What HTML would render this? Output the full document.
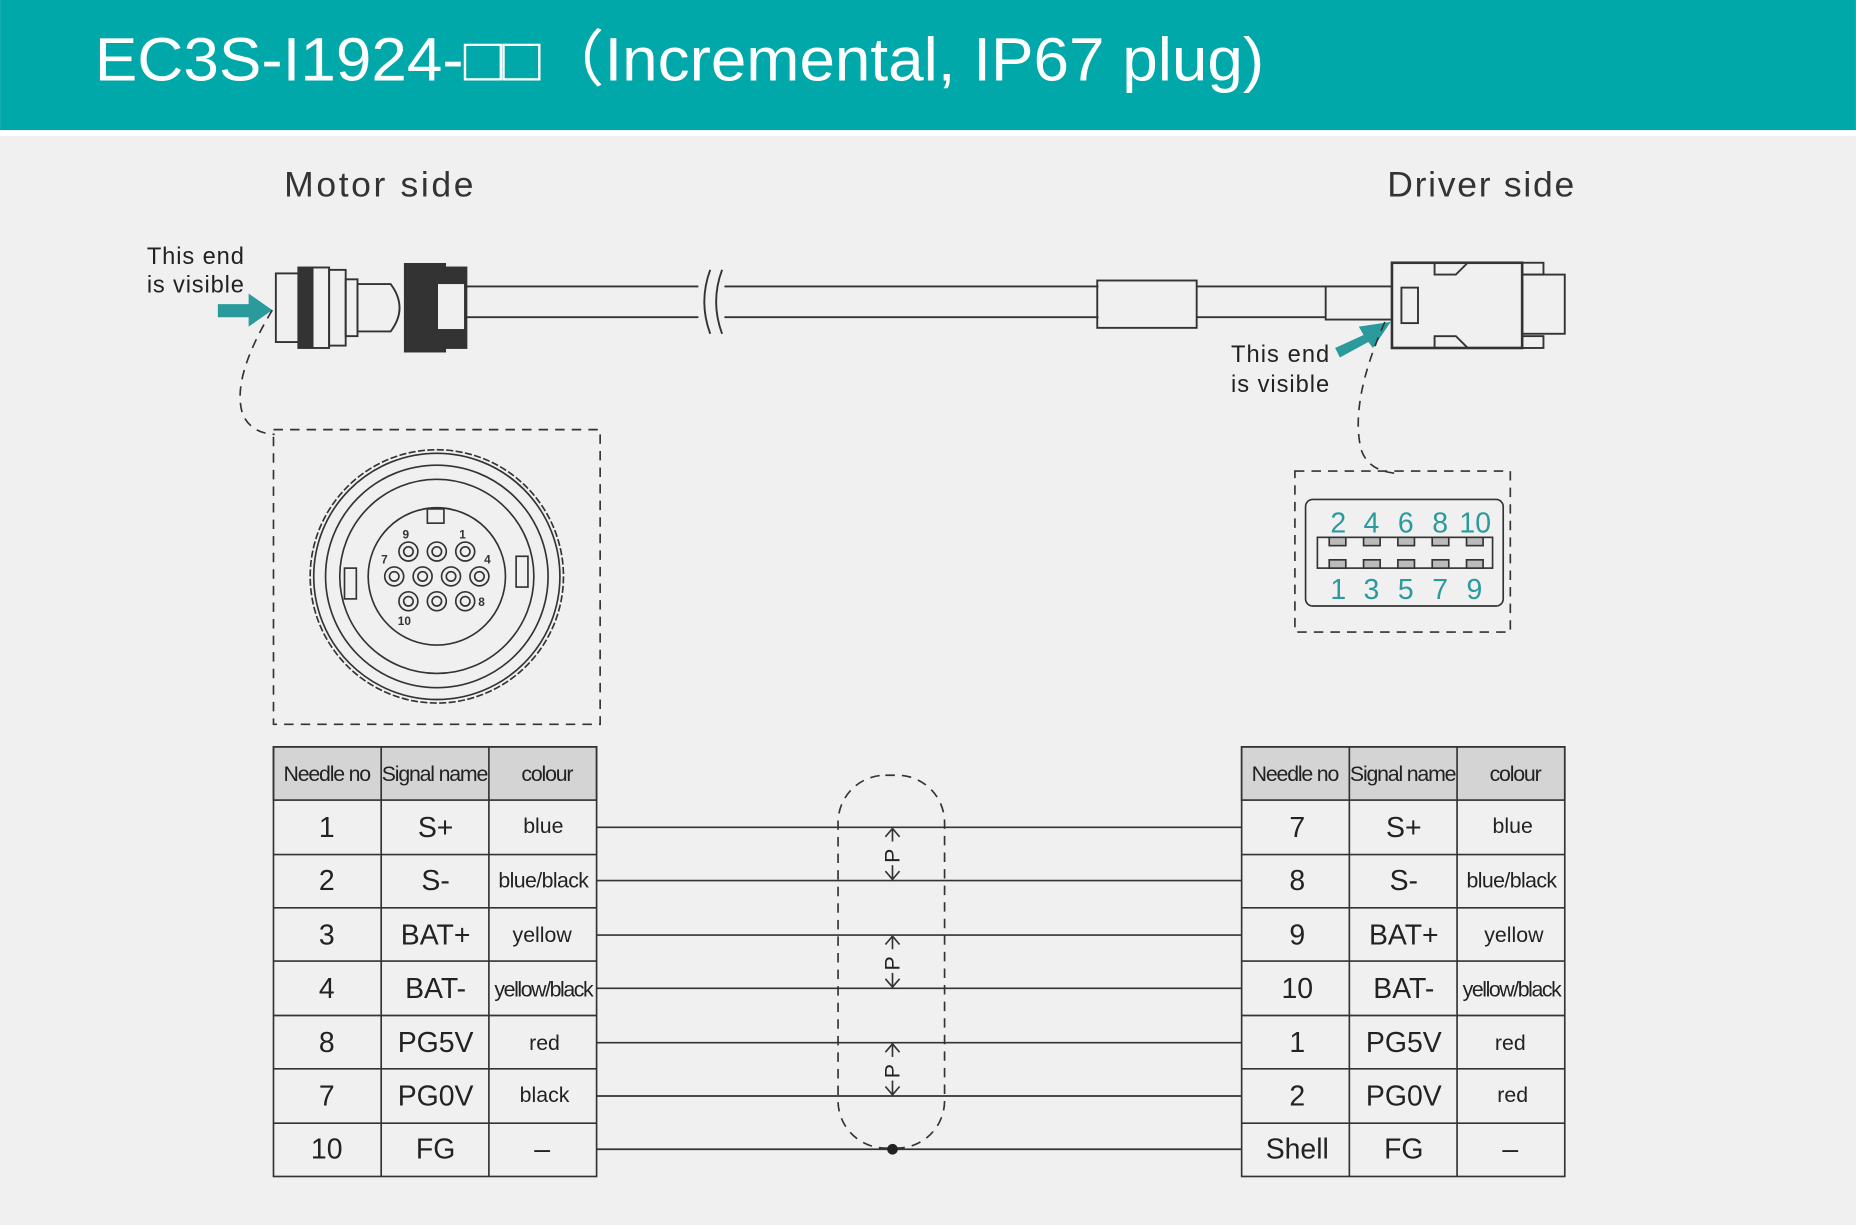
<!DOCTYPE html>
<html><head><meta charset="utf-8"><style>
html,body{margin:0;padding:0;background:#f0f0f0}
svg{display:block}
text{font-family:"Liberation Sans","DejaVu Sans",sans-serif}
</style></head><body>
<svg width="1856" height="1225" viewBox="0 0 1568 1035" xmlns="http://www.w3.org/2000/svg">
<rect width="1568" height="1035" fill="#f0f0f0"/>
<rect width="1568" height="110" fill="#00a8aa"/>
<rect y="110" width="1568" height="5" fill="#fff"/>
<text x="80" y="68" font-size="52" fill="#fff" textLength="988" lengthAdjust="spacingAndGlyphs">EC3S-I1924-□□（Incremental, IP67 plug)</text>

<text x="240" y="166" font-size="30" fill="#333" textLength="160">Motor side</text>
<text x="1172" y="166" font-size="30" fill="#333" textLength="158">Driver side</text>
<text x="124" y="223" font-size="20" fill="#222" textLength="82">This end</text>
<text x="124" y="247" font-size="20" fill="#222" textLength="82">is visible</text>
<text x="1040" y="306" font-size="20" fill="#222" textLength="83">This end</text>
<text x="1040" y="331" font-size="20" fill="#222" textLength="83">is visible</text>

<!-- arrows -->
<polygon points="184,257 210,257 210,248 230,262 210,276 210,268 184,268" fill="#2a9a9c"/>
<polygon points="1128,294 1152,283 1148,276 1175,272 1160,294 1156,289 1132,302" fill="#2a9a9c"/>

<g fill="none" stroke="#333" stroke-width="1.6">
<rect x="233" y="231" width="20" height="58"/>
<rect x="252" y="226" width="12" height="68" fill="#333"/>
<rect x="264" y="226" width="14" height="68"/>
<rect x="278" y="228" width="14" height="64"/>
<rect x="292" y="236" width="10" height="48"/>
<path d="M302,240 L330,240 Q345,260 330,280 L302,280 Z"/>
<rect x="342" y="223" width="34" height="74" fill="#333"/>
<rect x="376" y="226" width="18" height="68" fill="#333"/>
<rect x="370" y="240" width="22" height="38" fill="#f0f0f0" stroke="none"/>
<line x1="394" y1="242" x2="928" y2="242"/>
<line x1="394" y1="268" x2="928" y2="268"/>
<rect x="590" y="238" width="22" height="36" fill="#f0f0f0" stroke="none"/>
<path d="M600,228 Q590,255 600,282 M610,228 Q600,255 610,282"/>
<rect x="927" y="237" width="84" height="40"/>
<line x1="1011" y1="242" x2="1120" y2="242"/>
<line x1="1011" y1="268" x2="1120" y2="268"/>
<rect x="1120" y="242" width="56" height="28"/>
<rect x="1176" y="222" width="110" height="72" stroke-width="2.2"/>
<rect x="1184" y="243" width="14" height="30"/>
<rect x="1286" y="232" width="36" height="50"/>
<rect x="1286" y="222" width="18" height="10"/>
<rect x="1286" y="284" width="18" height="10"/>
<path d="M1212,222 L1212,232 L1230,232 L1240,222 M1212,294 L1212,284 L1230,284 L1240,294"/>
</g>

<g fill="none" stroke="#333" stroke-width="1.4" stroke-dasharray="8,6">
<path d="M230,262 Q195,320 205,350 Q212,366 232,367"/>
<path d="M1170,272 Q1140,340 1150,380 Q1156,398 1180,400"/>
<rect x="231" y="363" width="276" height="249"/>
<rect x="1094" y="398" width="182" height="136"/>
<rect x="708" y="655" width="90" height="315" rx="40"/>
</g>

<g fill="none" stroke="#333" stroke-width="1.4">
<circle cx="369" cy="487" r="107" stroke-dasharray="6,2"/>
<circle cx="369" cy="487" r="104"/>
<circle cx="369" cy="487" r="94"/>
<circle cx="369" cy="487" r="82"/>
<circle cx="369" cy="487" r="58"/>
<rect x="361" y="430" width="14" height="12"/>
<rect x="291" y="480" width="10" height="26"/>
<rect x="436" y="470" width="10" height="26"/>
<g>
<circle cx="345" cy="466" r="8"/><circle cx="345" cy="466" r="4"/>
<circle cx="369" cy="466" r="8"/><circle cx="369" cy="466" r="4"/>
<circle cx="393" cy="466" r="8"/><circle cx="393" cy="466" r="4"/>
<circle cx="333" cy="487" r="8"/><circle cx="333" cy="487" r="4"/>
<circle cx="357" cy="487" r="8"/><circle cx="357" cy="487" r="4"/>
<circle cx="381" cy="487" r="8"/><circle cx="381" cy="487" r="4"/>
<circle cx="405" cy="487" r="8"/><circle cx="405" cy="487" r="4"/>
<circle cx="345" cy="508" r="8"/><circle cx="345" cy="508" r="4"/>
<circle cx="369" cy="508" r="8"/><circle cx="369" cy="508" r="4"/>
<circle cx="393" cy="508" r="8"/><circle cx="393" cy="508" r="4"/>
</g>
</g>
<g font-size="10" font-weight="bold" fill="#333">
<text x="340" y="455">9</text><text x="388" y="455">1</text><text x="322" y="476">7</text><text x="409" y="476">4</text><text x="404" y="512">8</text><text x="336" y="528">10</text>
</g>

<g fill="none" stroke="#333" stroke-width="1.4">
<rect x="1103" y="422" width="167" height="90" rx="6"/>
<rect x="1113" y="454" width="148" height="26"/>
<g fill="#bbb">
<rect x="1123" y="454" width="14" height="7"/><rect x="1152" y="454" width="14" height="7"/><rect x="1181" y="454" width="14" height="7"/><rect x="1210" y="454" width="14" height="7"/><rect x="1239" y="454" width="14" height="7"/>
<rect x="1123" y="473" width="14" height="7"/><rect x="1152" y="473" width="14" height="7"/><rect x="1181" y="473" width="14" height="7"/><rect x="1210" y="473" width="14" height="7"/><rect x="1239" y="473" width="14" height="7"/>
</g>
</g>
<g font-size="24" fill="#2a9a9c">
<text x="1124" y="450">2</text><text x="1152" y="450">4</text><text x="1181" y="450">6</text><text x="1210" y="450">8</text><text x="1233" y="450">10</text>
<text x="1124" y="506">1</text><text x="1152" y="506">3</text><text x="1181" y="506">5</text><text x="1210" y="506">7</text><text x="1239" y="506">9</text>
</g>

<g stroke="#333" stroke-width="1.4" fill="none">
<line x1="504" y1="699" x2="1049" y2="699"/>
<line x1="504" y1="744" x2="1049" y2="744"/>
<line x1="504" y1="790" x2="1049" y2="790"/>
<line x1="504" y1="835" x2="1049" y2="835"/>
<line x1="504" y1="881" x2="1049" y2="881"/>
<line x1="504" y1="926" x2="1049" y2="926"/>
<line x1="504" y1="971" x2="1049" y2="971"/>
<line x1="754" y1="700" x2="754" y2="743"/>
<line x1="754" y1="791" x2="754" y2="834"/>
<line x1="754" y1="882" x2="754" y2="925"/>
<path d="M748,707 L754,700 L760,707 M748,736 L754,743 L760,736"/>
<path d="M748,798 L754,791 L760,798 M748,827 L754,834 L760,827"/>
<path d="M748,889 L754,882 L760,889 M748,918 L754,925 L760,918"/>
</g>
<circle cx="754" cy="971" r="4.5" fill="#222"/>
<g font-size="18" fill="#222">
<rect x="744" y="711" width="20" height="20" fill="#f0f0f0"/><text transform="translate(760,729) rotate(-90)">P</text>
<rect x="744" y="802" width="20" height="20" fill="#f0f0f0"/><text transform="translate(760,820) rotate(-90)">P</text>
<rect x="744" y="893" width="20" height="20" fill="#f0f0f0"/><text transform="translate(760,911) rotate(-90)">P</text>
</g>

<g stroke="#333" stroke-width="1.4" fill="none">
<rect x="231" y="631" width="273" height="45" fill="#d4d4d4"/>
<rect x="231" y="631" width="273" height="363"/>
<rect x="1049" y="631" width="273" height="45" fill="#d4d4d4"/>
<rect x="1049" y="631" width="273" height="363"/>
<path d="M322,631V994M413,631V994M1140,631V994M1231,631V994"/>
<path d="M231,722H504M231,767H504M231,812H504M231,858H504M231,903H504M231,949H504"/>
<path d="M1049,722H1322M1049,767H1322M1049,812H1322M1049,858H1322M1049,903H1322M1049,949H1322"/>
</g>
<g font-size="18" fill="#222" text-anchor="middle" letter-spacing="-1">
<text x="276" y="660">Needle no</text><text x="367" y="660">Signal name</text><text x="462" y="660">colour</text>
<text x="1094" y="660">Needle no</text><text x="1185" y="660">Signal name</text><text x="1280" y="660">colour</text>
</g>
<g font-size="24" fill="#222" text-anchor="middle">
<text x="276" y="707">1</text><text x="368" y="707">S+</text>
<text x="276" y="752">2</text><text x="368" y="752">S-</text>
<text x="276" y="798">3</text><text x="368" y="798">BAT+</text>
<text x="276" y="843">4</text><text x="368" y="843">BAT-</text>
<text x="276" y="889">8</text><text x="368" y="889">PG5V</text>
<text x="276" y="934">7</text><text x="368" y="934">PG0V</text>
<text x="276" y="979">10</text><text x="368" y="979">FG</text>
<text x="1096" y="707">7</text><text x="1186" y="707">S+</text>
<text x="1096" y="752">8</text><text x="1186" y="752">S-</text>
<text x="1096" y="798">9</text><text x="1186" y="798">BAT+</text>
<text x="1096" y="843">10</text><text x="1186" y="843">BAT-</text>
<text x="1096" y="889">1</text><text x="1186" y="889">PG5V</text>
<text x="1096" y="934">2</text><text x="1186" y="934">PG0V</text>
<text x="1096" y="979">Shell</text><text x="1186" y="979">FG</text>
<text x="458" y="979">–</text><text x="1276" y="979">–</text>
</g>
<g font-size="18" fill="#222" text-anchor="middle">
<text x="459" y="704">blue</text><text x="459" y="750" letter-spacing="-0.5">blue/black</text>
<text x="458" y="796">yellow</text><text x="459" y="842" letter-spacing="-1.2">yellow/black</text>
<text x="460" y="887">red</text><text x="460" y="931">black</text>
<text x="1278" y="704">blue</text><text x="1277" y="750" letter-spacing="-0.5">blue/black</text>
<text x="1279" y="796">yellow</text><text x="1277" y="842" letter-spacing="-1.2">yellow/black</text>
<text x="1276" y="887">red</text><text x="1278" y="931">red</text>
</g>
</svg>
</body></html>
